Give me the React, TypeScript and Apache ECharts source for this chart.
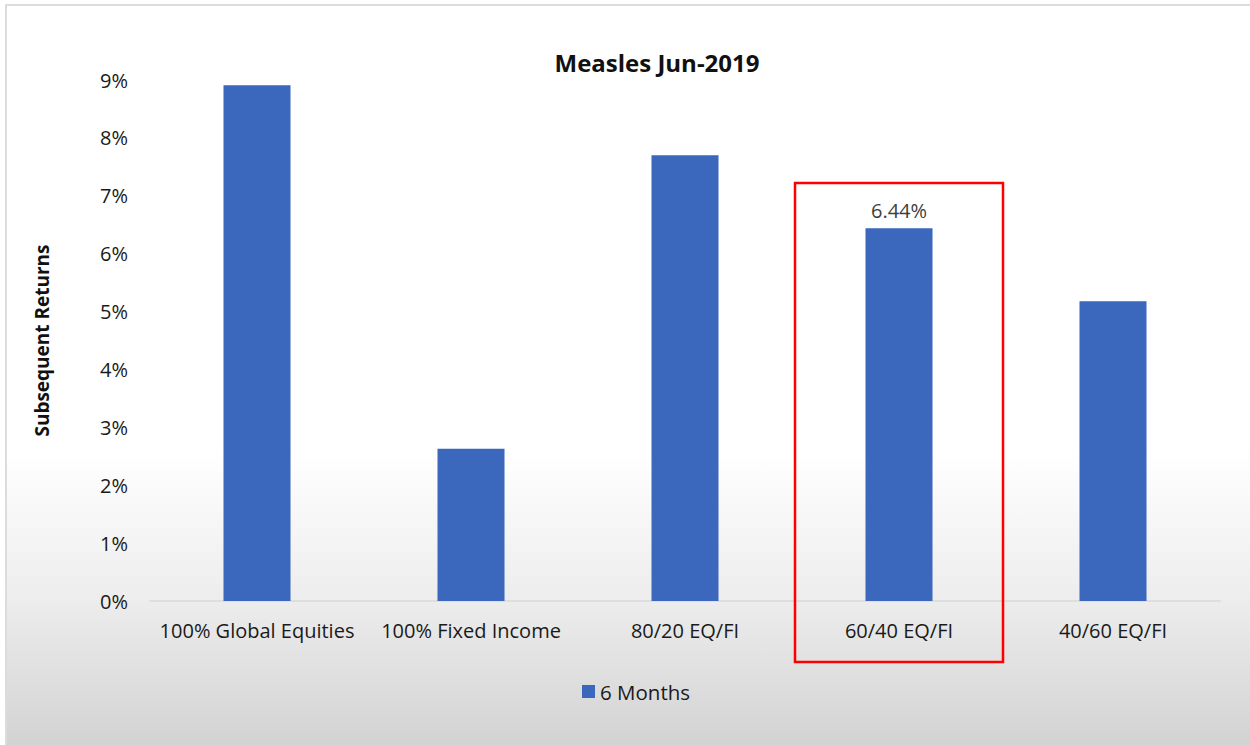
import React, { useEffect, useRef } from "react";
import * as echarts from "echarts";

const categories = ["100% Global Equities", "100% Fixed Income", "80/20 EQ/FI", "60/40 EQ/FI", "40/60 EQ/FI"];
const sixMonths = [8.91, 2.63, 7.7, 6.44, 5.18];
const labelledIndex = 3;
const yTicks = [0, 1, 2, 3, 4, 5, 6, 7, 8, 9];

const FONT = "'Open Sans', 'Noto Sans', sans-serif";

export default function App() {
  const ref = useRef<HTMLDivElement>(null);
  useEffect(() => {
    document.body.style.margin = "0";
    const chart = echarts.init(ref.current!, null, { renderer: "svg" });
    chart.setOption({
      animation: false,
      backgroundColor: "transparent",
      textStyle: { fontFamily: FONT },
      title: {
        text: "Measles Jun-2019",
        left: 652,
        textAlign: "center",
        top: 45,
        textStyle: { fontFamily: FONT, fontSize: 24, fontWeight: "bold", color: "#111" },
      },
      legend: {
        left: 577,
        top: 676,
        icon: "rect",
        itemWidth: 13,
        itemHeight: 13,
        itemGap: 6,
        textStyle: { fontFamily: FONT, fontSize: 20.5, color: "#1a1a1a" },
        data: ["6 Months"],
      },
      grid: { left: 150, right: 30, top: 80, bottom: 144, containLabel: false },
      xAxis: {
        type: "category",
        data: categories,
        axisLine: { lineStyle: { color: "#d9d9d9", width: 1.5 } },
        axisTick: { show: false },
        axisLabel: { interval: 0, fontFamily: FONT, fontSize: 20, color: "#1a1a1a", margin: 19 },
      },
      yAxis: {
        type: "value",
        min: yTicks[0],
        max: yTicks[yTicks.length - 1],
        interval: 1,
        name: "Subsequent Returns",
        nameLocation: "middle",
        nameGap: 99,
        nameTextStyle: { fontFamily: FONT, fontSize: 19, fontWeight: "bold", color: "#111" },
        splitLine: { show: false },
        axisLine: { show: false },
        axisTick: { show: false },
        axisLabel: { formatter: "{value}%", fontFamily: FONT, fontSize: 20, color: "#1a1a1a", margin: 22 },
      },
      series: [
        {
          name: "6 Months",
          type: "bar",
          barWidth: 67,
          itemStyle: { color: "#3b67bd" },
          data: sixMonths.map((v, i) =>
            i === labelledIndex
              ? {
                  value: v,
                  label: {
                    show: true,
                    position: "top",
                    distance: 8,
                    formatter: (p: any) => p.value.toFixed(2) + "%",
                    fontFamily: FONT,
                    fontSize: 20,
                    color: "#404040",
                  },
                }
              : v
          ),
        },
      ],
    });
    const [cx, topY] = chart.convertToPixel({ gridIndex: 0 }, [labelledIndex, 7.22]) as number[];
    const zeroY = (chart.convertToPixel({ gridIndex: 0 }, [labelledIndex, 0]) as number[])[1];
    const w = 208;
    chart.setOption({
      graphic: [
        {
          type: "rect",
          shape: { x: cx - w / 2, y: topY, width: w, height: zeroY + 61 - topY },
          style: { fill: "none", stroke: "#ff0000", lineWidth: 2.5 },
          z: 100,
        },
      ],
    });
    return () => chart.dispose();
  }, []);
  return (
    <div style={{ position: "relative", width: 1250, height: 745, background: "#fff", overflow: "hidden" }}>
      <div
        style={{
          position: "absolute",
          left: 5,
          top: 4,
          right: -2,
          bottom: -2,
          borderTop: "2px solid #dcdcdc",
          borderLeft: "2px solid #dcdcdc",
          background: "linear-gradient(to bottom, #ffffff 0%, #ffffff 60%, #ededed 80%, #d2d2d2 100%)",
        }}
      />
      <div ref={ref} style={{ position: "absolute", left: 0, top: 0, width: 1250, height: 745 }} />
    </div>
  );
}
